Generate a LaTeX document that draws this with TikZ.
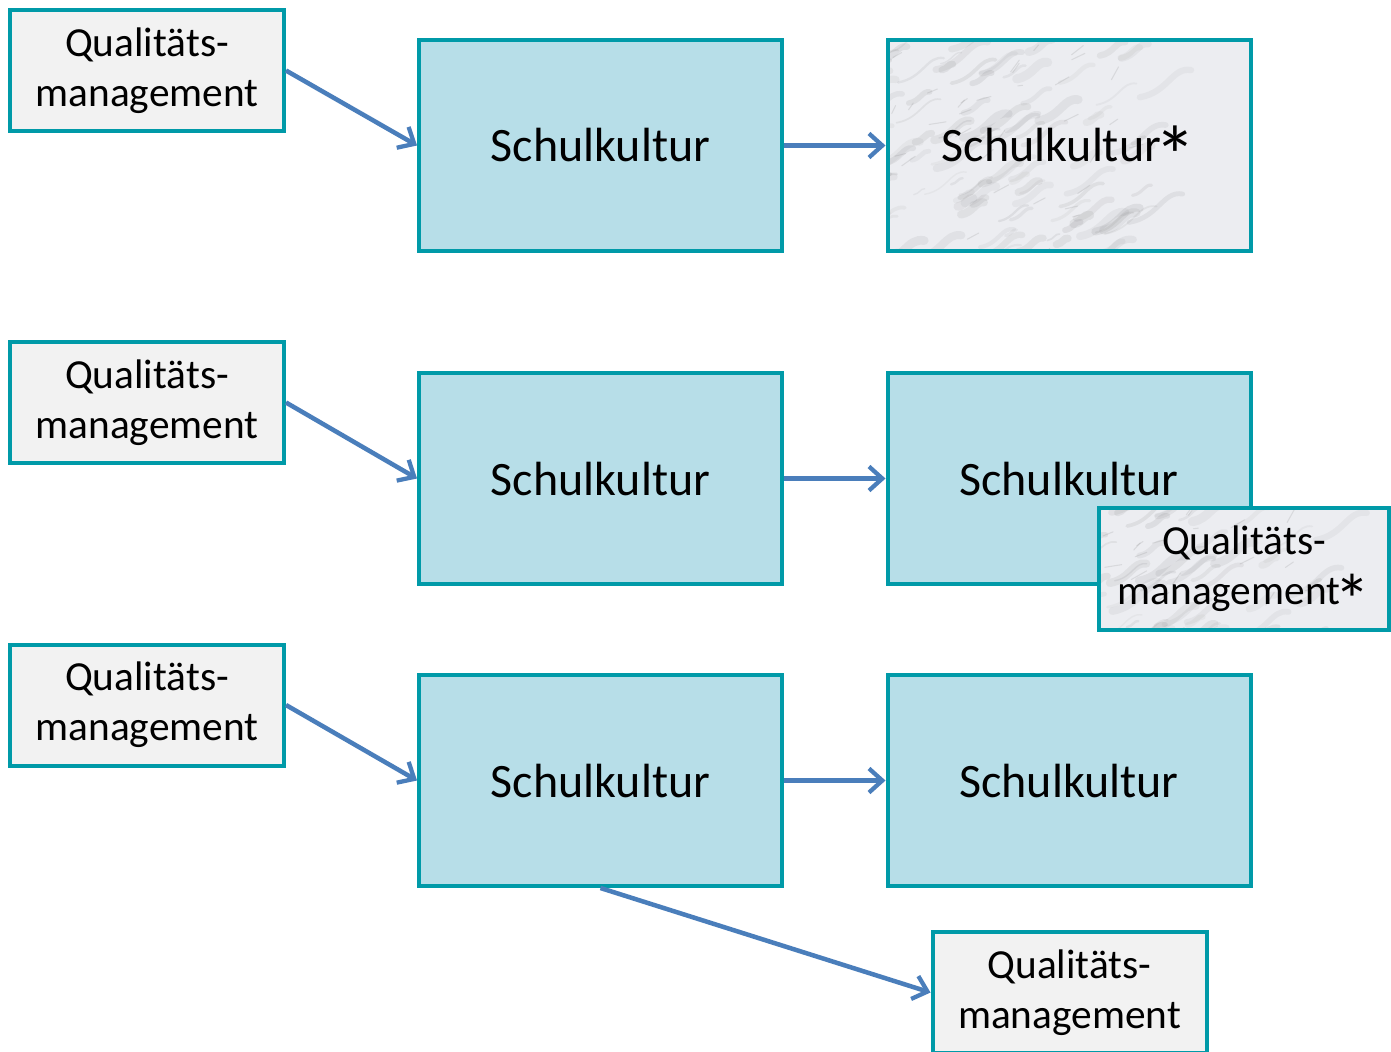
\documentclass[tikz,border=0pt]{standalone}
\usepackage{fontspec}
\setmainfont{Carlito}
\usetikzlibrary{arrows.meta}
\definecolor{tealframe}{RGB}{0, 154, 168}
\definecolor{schulblue}{RGB}{183, 222, 232}
\definecolor{qmgray}{RGB}{242, 242, 242}
\definecolor{arrowblue}{RGB}{74, 126, 187}
\definecolor{marblegray}{RGB}{236, 237, 241}
\newcommand{\stern}{\kern-0.14em\smash{\raisebox{-0.5em}{\scalebox{1.75}{*}}}}
\tikzset{
  qmbox/.style={draw=tealframe,line width=3pt,fill=qmgray,minimum width=205.5pt,minimum height=90.75pt,
    align=center,font=\fontsize{31}{37.5}\selectfont,inner sep=0pt},
  skbox/.style={draw=tealframe,line width=3pt,fill=schulblue,minimum width=272.25pt,minimum height=158.25pt,
    font=\fontsize{36}{43}\selectfont,inner sep=0pt},
  marble/.style={fill=marblegray,path picture={
      \begin{scope}[shift={(path picture bounding box.center)}]
        \pgfmathsetseed{11}
        \foreach \k in {1,...,150}{
          \pgfmathsetmacro{\mx}{rand*200}
          \pgfmathsetmacro{\my}{rand*115}
          \pgfmathsetmacro{\ml}{12+rnd*50}
          \pgfmathsetmacro{\mw}{1+rnd*6}
          \pgfmathsetmacro{\mg}{40+rnd*35}
          \draw[black!\mg,opacity=0.09,line width=\mw pt,line cap=round]
            (\mx,\my) .. controls ++(-10:\ml/2) and ++(190:\ml/3) .. ++(-28:\ml);
        }
        \foreach \k in {1,...,60}{
          \pgfmathsetmacro{\mx}{rand*200}
          \pgfmathsetmacro{\my}{rand*115}
          \pgfmathsetmacro{\ml}{4+rnd*14}
          \draw[black!55,opacity=0.16,line width=0.8pt,line cap=round]
            (\mx,\my) -- ++(-35+rand*30:\ml);
        }
      \end{scope}}},
  link/.style={draw=arrowblue,line width=3.4pt,-{Straight Barb[length=10pt,width=18pt,line width=3.2pt]}}
}
\begin{document}
\begin{tikzpicture}[x=0.75pt,y=-0.75pt]
\useasboundingbox[fill=white] (0,0) rectangle (1391,1051);

% erste Zeile
\node[qmbox] (qm1) at (147,70.5) {Qualitäts-\\management};
\node[skbox] (sk1) at (600.5,145.5) {Schulkultur};
\node[skbox,marble] (sk1s) at (1069,145.5) {Schulkultur\stern};
\draw[link] (qm1.east) -- (sk1.west);
\draw[link] (sk1.east) -- (sk1s.west);

% zweite Zeile
\node[qmbox] (qm2) at (147,402.5) {Qualitäts-\\management};
\node[skbox] (sk2) at (600.5,478.5) {Schulkultur};
\node[skbox] (sk2b) at (1069,478.5) {Schulkultur};
\node[qmbox,marble,minimum width=217.5pt,minimum height=91.5pt] (qm2s) at (1244,569) {Qualitäts-\\management\stern};
\draw[link] (qm2.east) -- (sk2.west);
\draw[link] (sk2.east) -- (sk2b.west);

% dritte Zeile
\node[qmbox] (qm3) at (147,705) {Qualitäts-\\management};
\node[skbox] (sk3) at (600.5,780.5) {Schulkultur};
\node[skbox] (sk3b) at (1069,780.5) {Schulkultur};
\node[qmbox] (qm4) at (1069.5,992.5) {Qualitäts-\\management};
\draw[link] (qm3.east) -- (sk3.west);
\draw[link] (sk3.east) -- (sk3b.west);
\draw[link] (sk3.south) -- (qm4.west);
\end{tikzpicture}
\end{document}
